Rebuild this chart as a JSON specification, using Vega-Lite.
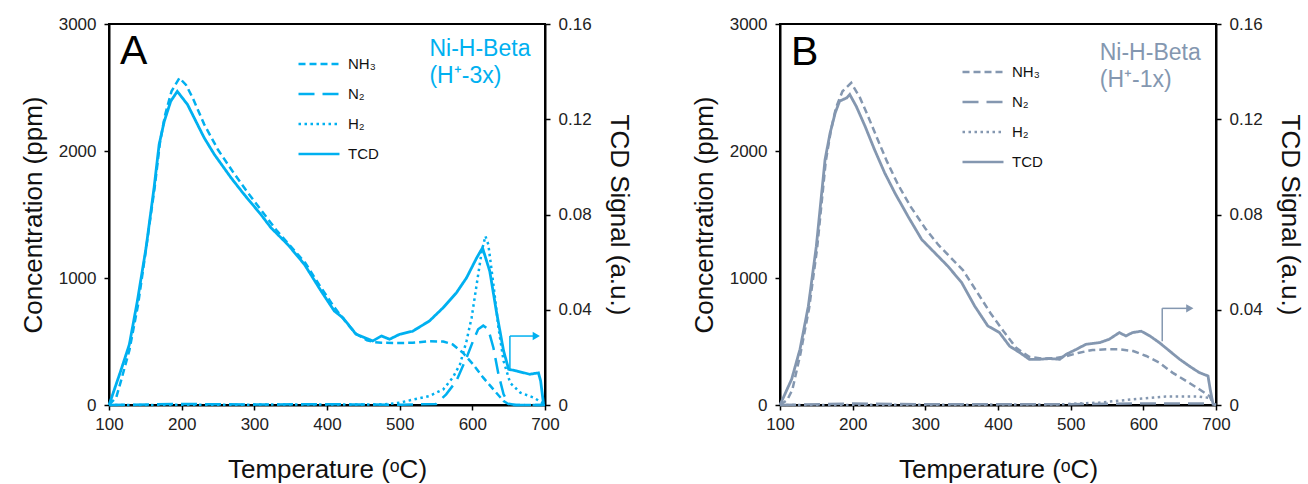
{
  "$schema": "https://vega.github.io/schema/vega-lite/v6.json",
  "padding": {"left": 19, "top": 14, "right": 5, "bottom": 2},
  "config": {
    "font": "Liberation Sans",
    "view": {"stroke": "black", "strokeWidth": 2},
    "scale": {"continuousPadding": 0},
    "axis": {
      "grid": false,
      "labelFlush": false,
      "domainColor": "black",
      "domainWidth": 2,
      "tickColor": "black",
      "tickWidth": 1.5,
      "tickSize": 5,
      "labelFontSize": 17,
      "labelColor": "#222222",
      "labelFont": "Liberation Sans",
      "titleFont": "Liberation Sans",
      "titleFontSize": 26,
      "titleFontWeight": "normal",
      "titleColor": "#111111"
    },
    "legend": {
      "labelFont": "Liberation Sans",
      "labelFontSize": 15,
      "labelColor": "#111111"
    }
  },
  "datasets": {
    "A": [
      {"T": 100, "s": "NH₃", "v": 0}, {"T": 110, "s": "NH₃", "v": 60}, {"T": 117, "s": "NH₃", "v": 200}, {"T": 128, "s": "NH₃", "v": 430}, {"T": 140, "s": "NH₃", "v": 790}, {"T": 151, "s": "NH₃", "v": 1230}, {"T": 163, "s": "NH₃", "v": 1720}, {"T": 170, "s": "NH₃", "v": 2060}, {"T": 177, "s": "NH₃", "v": 2280}, {"T": 186, "s": "NH₃", "v": 2470}, {"T": 197, "s": "NH₃", "v": 2575}, {"T": 206, "s": "NH₃", "v": 2520}, {"T": 215, "s": "NH₃", "v": 2420}, {"T": 231, "s": "NH₃", "v": 2210}, {"T": 250, "s": "NH₃", "v": 2010}, {"T": 270, "s": "NH₃", "v": 1840}, {"T": 290, "s": "NH₃", "v": 1680}, {"T": 310, "s": "NH₃", "v": 1530}, {"T": 330, "s": "NH₃", "v": 1380}, {"T": 350, "s": "NH₃", "v": 1250}, {"T": 370, "s": "NH₃", "v": 1120}, {"T": 390, "s": "NH₃", "v": 940}, {"T": 410, "s": "NH₃", "v": 770}, {"T": 425, "s": "NH₃", "v": 660}, {"T": 440, "s": "NH₃", "v": 560}, {"T": 455, "s": "NH₃", "v": 510}, {"T": 465, "s": "NH₃", "v": 495}, {"T": 475, "s": "NH₃", "v": 490}, {"T": 492, "s": "NH₃", "v": 488}, {"T": 518, "s": "NH₃", "v": 490}, {"T": 541, "s": "NH₃", "v": 502}, {"T": 560, "s": "NH₃", "v": 500}, {"T": 573, "s": "NH₃", "v": 477}, {"T": 587, "s": "NH₃", "v": 412}, {"T": 601, "s": "NH₃", "v": 320}, {"T": 615, "s": "NH₃", "v": 215}, {"T": 629, "s": "NH₃", "v": 123}, {"T": 643, "s": "NH₃", "v": 31}, {"T": 652, "s": "NH₃", "v": 0}, {"T": 700, "s": "NH₃", "v": 0},
      {"T": 100, "s": "N₂", "v": 0}, {"T": 200, "s": "N₂", "v": 8}, {"T": 300, "s": "N₂", "v": 4}, {"T": 400, "s": "N₂", "v": 6}, {"T": 500, "s": "N₂", "v": 2}, {"T": 550, "s": "N₂", "v": 8}, {"T": 564, "s": "N₂", "v": 84}, {"T": 578, "s": "N₂", "v": 189}, {"T": 592, "s": "N₂", "v": 372}, {"T": 601, "s": "N₂", "v": 504}, {"T": 608, "s": "N₂", "v": 596}, {"T": 615, "s": "N₂", "v": 625}, {"T": 622, "s": "N₂", "v": 596}, {"T": 629, "s": "N₂", "v": 451}, {"T": 636, "s": "N₂", "v": 241}, {"T": 643, "s": "N₂", "v": 84}, {"T": 650, "s": "N₂", "v": 10}, {"T": 660, "s": "N₂", "v": 0}, {"T": 700, "s": "N₂", "v": 0},
      {"T": 100, "s": "H₂", "v": 0}, {"T": 300, "s": "H₂", "v": 3}, {"T": 480, "s": "H₂", "v": 5}, {"T": 500, "s": "H₂", "v": 18}, {"T": 520, "s": "H₂", "v": 45}, {"T": 541, "s": "H₂", "v": 71}, {"T": 560, "s": "H₂", "v": 123}, {"T": 573, "s": "H₂", "v": 215}, {"T": 583, "s": "H₂", "v": 320}, {"T": 592, "s": "H₂", "v": 504}, {"T": 599, "s": "H₂", "v": 687}, {"T": 606, "s": "H₂", "v": 950}, {"T": 613, "s": "H₂", "v": 1212}, {"T": 618, "s": "H₂", "v": 1330}, {"T": 622, "s": "H₂", "v": 1264}, {"T": 629, "s": "H₂", "v": 950}, {"T": 636, "s": "H₂", "v": 608}, {"T": 643, "s": "H₂", "v": 346}, {"T": 652, "s": "H₂", "v": 175}, {"T": 666, "s": "H₂", "v": 97}, {"T": 685, "s": "H₂", "v": 57}, {"T": 698, "s": "H₂", "v": 10}, {"T": 700, "s": "H₂", "v": 0},
      {"T": 100, "s": "TCD", "v": 0}, {"T": 102, "s": "TCD", "v": 0.0017}, {"T": 116, "s": "TCD", "v": 0.0142}, {"T": 128, "s": "TCD", "v": 0.0254}, {"T": 139, "s": "TCD", "v": 0.0436}, {"T": 151, "s": "TCD", "v": 0.0660}, {"T": 162, "s": "TCD", "v": 0.0912}, {"T": 169, "s": "TCD", "v": 0.1094}, {"T": 176, "s": "TCD", "v": 0.1191}, {"T": 185, "s": "TCD", "v": 0.1276}, {"T": 194, "s": "TCD", "v": 0.1317}, {"T": 208, "s": "TCD", "v": 0.1262}, {"T": 231, "s": "TCD", "v": 0.1122}, {"T": 245, "s": "TCD", "v": 0.1052}, {"T": 268, "s": "TCD", "v": 0.0954}, {"T": 286, "s": "TCD", "v": 0.0884}, {"T": 309, "s": "TCD", "v": 0.0800}, {"T": 323, "s": "TCD", "v": 0.0744}, {"T": 346, "s": "TCD", "v": 0.0674}, {"T": 369, "s": "TCD", "v": 0.0590}, {"T": 392, "s": "TCD", "v": 0.0478}, {"T": 410, "s": "TCD", "v": 0.0395}, {"T": 422, "s": "TCD", "v": 0.0366}, {"T": 440, "s": "TCD", "v": 0.0297}, {"T": 463, "s": "TCD", "v": 0.0269}, {"T": 475, "s": "TCD", "v": 0.0290}, {"T": 486, "s": "TCD", "v": 0.0276}, {"T": 500, "s": "TCD", "v": 0.0297}, {"T": 518, "s": "TCD", "v": 0.0310}, {"T": 541, "s": "TCD", "v": 0.0353}, {"T": 560, "s": "TCD", "v": 0.0409}, {"T": 578, "s": "TCD", "v": 0.0471}, {"T": 592, "s": "TCD", "v": 0.0534}, {"T": 606, "s": "TCD", "v": 0.0618}, {"T": 614, "s": "TCD", "v": 0.0660}, {"T": 624, "s": "TCD", "v": 0.0562}, {"T": 633, "s": "TCD", "v": 0.0395}, {"T": 643, "s": "TCD", "v": 0.0227}, {"T": 650, "s": "TCD", "v": 0.0150}, {"T": 661, "s": "TCD", "v": 0.0143}, {"T": 679, "s": "TCD", "v": 0.0129}, {"T": 691, "s": "TCD", "v": 0.0135}, {"T": 694, "s": "TCD", "v": 0.0101}, {"T": 698, "s": "TCD", "v": 0.0004}
    ],
    "B": [
      {"T": 100, "s": "NH₃", "v": 0}, {"T": 110, "s": "NH₃", "v": 40}, {"T": 117, "s": "NH₃", "v": 120}, {"T": 128, "s": "NH₃", "v": 400}, {"T": 140, "s": "NH₃", "v": 760}, {"T": 151, "s": "NH₃", "v": 1230}, {"T": 163, "s": "NH₃", "v": 1920}, {"T": 170, "s": "NH₃", "v": 2160}, {"T": 177, "s": "NH₃", "v": 2340}, {"T": 186, "s": "NH₃", "v": 2470}, {"T": 198, "s": "NH₃", "v": 2537}, {"T": 210, "s": "NH₃", "v": 2420}, {"T": 220, "s": "NH₃", "v": 2290}, {"T": 233, "s": "NH₃", "v": 2110}, {"T": 247, "s": "NH₃", "v": 1920}, {"T": 262, "s": "NH₃", "v": 1740}, {"T": 280, "s": "NH₃", "v": 1560}, {"T": 300, "s": "NH₃", "v": 1390}, {"T": 318, "s": "NH₃", "v": 1260}, {"T": 335, "s": "NH₃", "v": 1160}, {"T": 352, "s": "NH₃", "v": 1060}, {"T": 370, "s": "NH₃", "v": 900}, {"T": 390, "s": "NH₃", "v": 720}, {"T": 409, "s": "NH₃", "v": 570}, {"T": 425, "s": "NH₃", "v": 450}, {"T": 443, "s": "NH₃", "v": 380}, {"T": 460, "s": "NH₃", "v": 365}, {"T": 480, "s": "NH₃", "v": 370}, {"T": 494, "s": "NH₃", "v": 385}, {"T": 512, "s": "NH₃", "v": 412}, {"T": 530, "s": "NH₃", "v": 433}, {"T": 549, "s": "NH₃", "v": 438}, {"T": 567, "s": "NH₃", "v": 438}, {"T": 586, "s": "NH₃", "v": 425}, {"T": 604, "s": "NH₃", "v": 386}, {"T": 622, "s": "NH₃", "v": 334}, {"T": 640, "s": "NH₃", "v": 255}, {"T": 659, "s": "NH₃", "v": 189}, {"T": 677, "s": "NH₃", "v": 124}, {"T": 691, "s": "NH₃", "v": 71}, {"T": 696, "s": "NH₃", "v": 10}, {"T": 700, "s": "NH₃", "v": 0},
      {"T": 100, "s": "N₂", "v": 0}, {"T": 200, "s": "N₂", "v": 12}, {"T": 300, "s": "N₂", "v": 6}, {"T": 400, "s": "N₂", "v": 5}, {"T": 500, "s": "N₂", "v": 6}, {"T": 600, "s": "N₂", "v": 12}, {"T": 690, "s": "N₂", "v": 12}, {"T": 700, "s": "N₂", "v": 0},
      {"T": 100, "s": "H₂", "v": 0}, {"T": 300, "s": "H₂", "v": 2}, {"T": 480, "s": "H₂", "v": 4}, {"T": 540, "s": "H₂", "v": 19}, {"T": 586, "s": "H₂", "v": 45}, {"T": 631, "s": "H₂", "v": 66}, {"T": 677, "s": "H₂", "v": 66}, {"T": 693, "s": "H₂", "v": 55}, {"T": 697, "s": "H₂", "v": 0},
      {"T": 100, "s": "TCD", "v": 0}, {"T": 116, "s": "TCD", "v": 0.0108}, {"T": 127.5, "s": "TCD", "v": 0.0234}, {"T": 139, "s": "TCD", "v": 0.0415}, {"T": 150, "s": "TCD", "v": 0.0667}, {"T": 162, "s": "TCD", "v": 0.1031}, {"T": 169, "s": "TCD", "v": 0.1143}, {"T": 176, "s": "TCD", "v": 0.1227}, {"T": 182, "s": "TCD", "v": 0.1276}, {"T": 192, "s": "TCD", "v": 0.1290}, {"T": 196, "s": "TCD", "v": 0.1304}, {"T": 205, "s": "TCD", "v": 0.1254}, {"T": 217, "s": "TCD", "v": 0.1171}, {"T": 230, "s": "TCD", "v": 0.1073}, {"T": 244, "s": "TCD", "v": 0.0975}, {"T": 258, "s": "TCD", "v": 0.0891}, {"T": 276, "s": "TCD", "v": 0.0793}, {"T": 295, "s": "TCD", "v": 0.0695}, {"T": 313, "s": "TCD", "v": 0.0639}, {"T": 331, "s": "TCD", "v": 0.0583}, {"T": 350, "s": "TCD", "v": 0.0514}, {"T": 368, "s": "TCD", "v": 0.0415}, {"T": 386, "s": "TCD", "v": 0.0332}, {"T": 402, "s": "TCD", "v": 0.0304}, {"T": 416, "s": "TCD", "v": 0.0247}, {"T": 430, "s": "TCD", "v": 0.0220}, {"T": 443, "s": "TCD", "v": 0.0192}, {"T": 457, "s": "TCD", "v": 0.0192}, {"T": 471, "s": "TCD", "v": 0.0195}, {"T": 485, "s": "TCD", "v": 0.0192}, {"T": 494, "s": "TCD", "v": 0.0213}, {"T": 508, "s": "TCD", "v": 0.0234}, {"T": 521, "s": "TCD", "v": 0.0255}, {"T": 540, "s": "TCD", "v": 0.0262}, {"T": 553, "s": "TCD", "v": 0.0276}, {"T": 567, "s": "TCD", "v": 0.0304}, {"T": 576, "s": "TCD", "v": 0.0290}, {"T": 585, "s": "TCD", "v": 0.0304}, {"T": 597, "s": "TCD", "v": 0.0310}, {"T": 609, "s": "TCD", "v": 0.0290}, {"T": 622, "s": "TCD", "v": 0.0262}, {"T": 636, "s": "TCD", "v": 0.0227}, {"T": 650, "s": "TCD", "v": 0.0192}, {"T": 663, "s": "TCD", "v": 0.0164}, {"T": 677, "s": "TCD", "v": 0.0136}, {"T": 689, "s": "TCD", "v": 0.0122}, {"T": 692, "s": "TCD", "v": 0.0066}, {"T": 696, "s": "TCD", "v": 0.0003}
    ],
    "notesA": [
      {"kind": "letter", "T": 115, "C": 2683, "label": "A"},
      {"kind": "name", "T": 541, "C": 2746, "label": "Ni-H-Beta"},
      {"kind": "name", "T": 541, "C": 2533, "label": "(H⁺-3x)"}
    ],
    "notesB": [
      {"kind": "letter", "T": 115, "C": 2680, "label": "B"},
      {"kind": "name", "T": 540, "C": 2720, "label": "Ni-H-Beta"},
      {"kind": "name", "T": 540, "C": 2505, "label": "(H⁺-1x)"}
    ],
    "arrowA": [
      {"T": 651.7, "C": 268, "T2": 651.7, "C2": 543},
      {"T": 651.7, "C": 543, "T2": 686, "C2": 543}
    ],
    "headA": [{"T": 688, "C": 543}],
    "arrowB": [
      {"T": 626, "C": 501, "T2": 626, "C2": 761},
      {"T": 626, "C": 761, "T2": 662, "C2": 761}
    ],
    "headB": [{"T": 664, "C": 761}]
  },
  "resolve": {"scale": {"strokeDash": "independent", "y": "independent", "x": "independent"}, "legend": {"strokeDash": "independent"}},
  "spacing": 57,
  "hconcat": [
    {
      "width": 436,
      "height": 381,
      "resolve": {"scale": {"y": "independent"}},
      "layer": [
        {
          "layer": [
            {
              "data": {"name": "A"},
              "transform": [{"filter": "datum.s != 'TCD'"}],
              "mark": {"type": "line", "color": "#00B0F0", "strokeWidth": 2.5, "strokeCap": "butt"},
              "encoding": {
                "x": {"field": "T", "type": "quantitative", "scale": {"domain": [100, 700], "nice": false, "zero": false, "padding": 0}, "axis": {"values": [100, 200, 300, 400, 500, 600, 700], "title": "Temperature  (ᵒC)", "labelPadding": 6, "titlePadding": 24}},
                "y": {"field": "v", "type": "quantitative", "scale": {"domain": [0, 3000], "nice": false, "padding": 0}, "axis": {"values": [0, 1000, 2000, 3000], "format": "d", "title": "Concentration  (ppm)", "labelPadding": 8, "titlePadding": 12}},
                "strokeDash": {"field": "s", "type": "nominal", "scale": {"domain": ["NH₃", "N₂", "H₂", "TCD"], "range": [[7, 4], [16, 8], [2.5, 3.5], [1, 0]]},
                  "legend": {"title": null, "orient": "none", "legendX": 188, "legendY": 18, "symbolType": "stroke", "symbolSize": 1680, "symbolStrokeWidth": 2.5, "symbolStrokeColor": "#00B0F0", "rowPadding": 0, "labelOffset": 7}}
              }
            },
            {
              "data": {"name": "notesA"},
              "transform": [{"filter": "datum.kind == 'letter'"}],
              "mark": {"type": "text", "fontSize": 41, "align": "left", "baseline": "alphabetic", "color": "black"},
              "encoding": {"x": {"field": "T", "type": "quantitative"}, "y": {"field": "C", "type": "quantitative"}, "text": {"field": "label"}}
            },
            {
              "data": {"name": "notesA"},
              "transform": [{"filter": "datum.kind == 'name'"}],
              "mark": {"type": "text", "fontSize": 23, "align": "left", "baseline": "alphabetic", "color": "#00B0F0"},
              "encoding": {"x": {"field": "T", "type": "quantitative"}, "y": {"field": "C", "type": "quantitative"}, "text": {"field": "label"}}
            },
            {
              "data": {"name": "arrowA"},
              "mark": {"type": "rule", "color": "#00B0F0", "strokeWidth": 1.5},
              "encoding": {"x": {"field": "T", "type": "quantitative"}, "y": {"field": "C", "type": "quantitative"}, "x2": {"field": "T2"}, "y2": {"field": "C2"}}
            },
            {
              "data": {"name": "headA"},
              "mark": {"type": "point", "shape": "triangle-right", "filled": true, "color": "#00B0F0", "size": 70, "opacity": 1},
              "encoding": {"x": {"field": "T", "type": "quantitative"}, "y": {"field": "C", "type": "quantitative"}}
            }
          ]
        },
        {
          "data": {"name": "A"},
          "transform": [{"filter": "datum.s == 'TCD'"}],
          "mark": {"type": "line", "color": "#00B0F0", "strokeWidth": 2.8, "strokeCap": "butt"},
          "encoding": {
            "x": {"field": "T", "type": "quantitative", "scale": {"domain": [100, 700], "nice": false, "zero": false, "padding": 0}},
            "y": {"field": "v", "type": "quantitative", "scale": {"domain": [0, 0.16], "nice": false, "padding": 0}, "axis": {"orient": "right", "values": [0, 0.04, 0.08, 0.12, 0.16], "labelExpr": "datum.value == 0 ? '0' : format(datum.value, '.2f')", "title": "TCD Signal  (a.u.)", "labelPadding": 8, "titlePadding": 14}},
            "strokeDash": {"field": "s", "type": "nominal"}
          }
        }
      ]
    },
    {
      "width": 436,
      "height": 381,
      "resolve": {"scale": {"y": "independent"}},
      "layer": [
        {
          "layer": [
            {
              "data": {"name": "B"},
              "transform": [{"filter": "datum.s != 'TCD'"}],
              "mark": {"type": "line", "color": "#8497B0", "strokeWidth": 2.5, "strokeCap": "butt"},
              "encoding": {
                "x": {"field": "T", "type": "quantitative", "scale": {"domain": [100, 700], "nice": false, "zero": false, "padding": 0}, "axis": {"values": [100, 200, 300, 400, 500, 600, 700], "title": "Temperature  (ᵒC)", "labelPadding": 6, "titlePadding": 24}},
                "y": {"field": "v", "type": "quantitative", "scale": {"domain": [0, 3000], "nice": false, "padding": 0}, "axis": {"values": [0, 1000, 2000, 3000], "format": "d", "title": "Concentration  (ppm)", "labelPadding": 8, "titlePadding": 12}},
                "strokeDash": {"field": "s", "type": "nominal", "scale": {"domain": ["NH₃", "N₂", "H₂", "TCD"], "range": [[7, 4], [16, 8], [2.5, 3.5], [1, 0]]},
                  "legend": {"title": null, "orient": "none", "legendX": 181, "legendY": 26, "symbolType": "stroke", "symbolSize": 1680, "symbolStrokeWidth": 2.5, "symbolStrokeColor": "#8497B0", "rowPadding": 0, "labelOffset": 7}}
              }
            },
            {
              "data": {"name": "notesB"},
              "transform": [{"filter": "datum.kind == 'letter'"}],
              "mark": {"type": "text", "fontSize": 41, "align": "left", "baseline": "alphabetic", "color": "black"},
              "encoding": {"x": {"field": "T", "type": "quantitative"}, "y": {"field": "C", "type": "quantitative"}, "text": {"field": "label"}}
            },
            {
              "data": {"name": "notesB"},
              "transform": [{"filter": "datum.kind == 'name'"}],
              "mark": {"type": "text", "fontSize": 23, "align": "left", "baseline": "alphabetic", "color": "#8497B0"},
              "encoding": {"x": {"field": "T", "type": "quantitative"}, "y": {"field": "C", "type": "quantitative"}, "text": {"field": "label"}}
            },
            {
              "data": {"name": "arrowB"},
              "mark": {"type": "rule", "color": "#8497B0", "strokeWidth": 1.5},
              "encoding": {"x": {"field": "T", "type": "quantitative"}, "y": {"field": "C", "type": "quantitative"}, "x2": {"field": "T2"}, "y2": {"field": "C2"}}
            },
            {
              "data": {"name": "headB"},
              "mark": {"type": "point", "shape": "triangle-right", "filled": true, "color": "#8497B0", "size": 70, "opacity": 1},
              "encoding": {"x": {"field": "T", "type": "quantitative"}, "y": {"field": "C", "type": "quantitative"}}
            }
          ]
        },
        {
          "data": {"name": "B"},
          "transform": [{"filter": "datum.s == 'TCD'"}],
          "mark": {"type": "line", "color": "#8497B0", "strokeWidth": 2.8, "strokeCap": "butt"},
          "encoding": {
            "x": {"field": "T", "type": "quantitative", "scale": {"domain": [100, 700], "nice": false, "zero": false, "padding": 0}},
            "y": {"field": "v", "type": "quantitative", "scale": {"domain": [0, 0.16], "nice": false, "padding": 0}, "axis": {"orient": "right", "values": [0, 0.04, 0.08, 0.12, 0.16], "labelExpr": "datum.value == 0 ? '0' : format(datum.value, '.2f')", "title": "TCD Signal  (a.u.)", "labelPadding": 8, "titlePadding": 14}},
            "strokeDash": {"field": "s", "type": "nominal"}
          }
        }
      ]
    }
  ]
}
